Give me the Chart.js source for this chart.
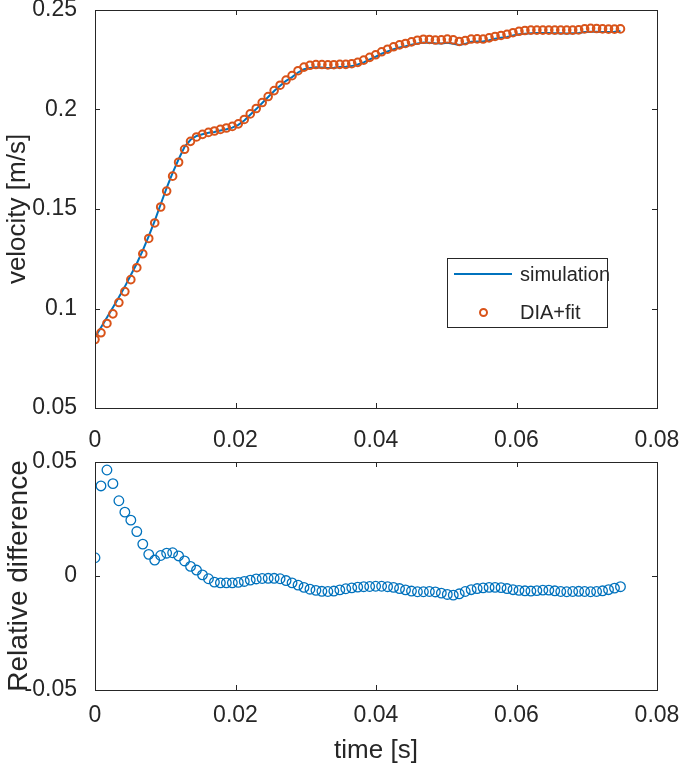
<!DOCTYPE html>
<html>
<head>
<meta charset="utf-8">
<script src="https://cdn.jsdelivr.net/npm/chart.js@4.4.1/dist/chart.umd.min.js"></script>
<style>
  body { margin: 0; background: #fff; }
  #wrap { position: relative; width: 685px; height: 776px; }
  canvas { position: absolute; left: 0; }
  #topChart { top: 0; }
  #bottomChart { top: 450px; }
  #legend {
    position: absolute; left: 447px; top: 258px; width: 159px; height: 68px;
    border: 1px solid #262626; background: #fff;
    font-family: "Liberation Sans", Arial, sans-serif; font-size: 20px; color: #262626;
  }
  .item { position: absolute; left: 0; width: 100%; height: 30px; }
  .item span { position: absolute; left: 72px; top: 3px; }
</style>
</head>
<body>
<div id="wrap">
  <canvas id="topChart" width="685" height="450"></canvas>
  <canvas id="bottomChart" width="685" height="326"></canvas>
  <div id="legend"></div>
</div>
<script>
// time samples [s]
const time = [0, 0.00085, 0.0017, 0.00255, 0.0034, 0.00425, 0.0051, 0.00595, 0.0068, 0.00765,
  0.0085, 0.00935, 0.0102, 0.01105, 0.0119, 0.01275, 0.0136, 0.01445, 0.0153, 0.01615,
  0.017, 0.01785, 0.0187, 0.01955, 0.0204, 0.02125, 0.0221, 0.02295, 0.0238, 0.02465,
  0.0255, 0.02635, 0.0272, 0.02805, 0.0289, 0.02975, 0.0306, 0.03145, 0.0323, 0.03315,
  0.034, 0.03485, 0.0357, 0.03655, 0.0374, 0.03825, 0.0391, 0.03995, 0.0408, 0.04165,
  0.0425, 0.04335, 0.0442, 0.04505, 0.0459, 0.04675, 0.0476, 0.04845, 0.0493, 0.05015,
  0.051, 0.05185, 0.0527, 0.05355, 0.0544, 0.05525, 0.0561, 0.05695, 0.0578, 0.05865,
  0.0595, 0.06035, 0.0612, 0.06205, 0.0629, 0.06375, 0.0646, 0.06545, 0.0663, 0.06715,
  0.068, 0.06885, 0.0697, 0.07055, 0.0714, 0.07225, 0.0731, 0.07395, 0.0748];

// simulated velocity [m/s]
const simulation = [0.0855, 0.0905, 0.0955, 0.1005, 0.1057, 0.1110, 0.1168, 0.1226, 0.1292, 0.1364,
  0.1440, 0.1524, 0.1606, 0.1682, 0.1750, 0.1812, 0.1848, 0.1867, 0.1876, 0.1883,
  0.1887, 0.1894, 0.1901, 0.1909, 0.1923, 0.1945, 0.1974, 0.2002, 0.2033, 0.2063,
  0.2093, 0.2119, 0.2144, 0.2163, 0.2186, 0.2202, 0.2209, 0.2212, 0.2211, 0.2209,
  0.2210, 0.2213, 0.2215, 0.2218, 0.2226, 0.2237, 0.2252, 0.2265, 0.2280, 0.2292,
  0.2303, 0.2312, 0.2318, 0.2325, 0.2332, 0.2337, 0.2336, 0.2333, 0.2332, 0.2335,
  0.2330, 0.2324, 0.2330, 0.2340, 0.2342, 0.2342, 0.2348, 0.2355, 0.2360, 0.2365,
  0.2372, 0.2378, 0.2381, 0.2383, 0.2384, 0.2384, 0.2384, 0.2383, 0.2383, 0.2382,
  0.2383, 0.2384, 0.2389, 0.2391, 0.2391, 0.2389, 0.2390, 0.2391, 0.2394];

// measured velocity (DIA + fit) [m/s]
const diaFit = [0.0844, 0.0878, 0.0925, 0.0973, 0.1030, 0.1085, 0.1145, 0.1205, 0.1275, 0.1352,
  0.1430, 0.1510, 0.1590, 0.1665, 0.1735, 0.1800, 0.1840, 0.1862, 0.1875, 0.1885,
  0.1892, 0.1900, 0.1907, 0.1915, 0.1928, 0.1950, 0.1978, 0.2005, 0.2035, 0.2065,
  0.2095, 0.2122, 0.2148, 0.2170, 0.2195, 0.2213, 0.2222, 0.2226, 0.2226, 0.2224,
  0.2225, 0.2227, 0.2227, 0.2230, 0.2237, 0.2248, 0.2262, 0.2275, 0.2290, 0.2303,
  0.2315, 0.2325, 0.2332, 0.2340, 0.2348, 0.2353, 0.2352, 0.2349, 0.2350, 0.2354,
  0.2350, 0.2342, 0.2346, 0.2354, 0.2355, 0.2354, 0.2360, 0.2367, 0.2372, 0.2378,
  0.2386, 0.2393, 0.2397, 0.2399, 0.2399, 0.2399, 0.2399, 0.2399, 0.2399, 0.2399,
  0.2399, 0.2400, 0.2405, 0.2408, 0.2407, 0.2405, 0.2404, 0.2404, 0.2405];

// relative difference
const relDiff = [0.0080, 0.0395, 0.0465, 0.0405, 0.0330, 0.0280, 0.0245, 0.0195, 0.0140, 0.0095,
  0.0070, 0.0090, 0.0100, 0.0102, 0.0088, 0.0066, 0.0042, 0.0026, 0.0005, -0.0012,
  -0.0027, -0.0030, -0.0030, -0.0030, -0.0028, -0.0024, -0.0018, -0.0013, -0.0011, -0.0010,
  -0.0010, -0.0012, -0.0020, -0.0030, -0.0040, -0.0050, -0.0058, -0.0063, -0.0067, -0.0068,
  -0.0066, -0.0061, -0.0056, -0.0052, -0.0049, -0.0047, -0.0046, -0.0045, -0.0045, -0.0047,
  -0.0050, -0.0055, -0.0061, -0.0066, -0.0069, -0.0069, -0.0068, -0.0070, -0.0075, -0.0081,
  -0.0084, -0.0078, -0.0068, -0.0060, -0.0055, -0.0052, -0.0050, -0.0050, -0.0051, -0.0055,
  -0.0060, -0.0063, -0.0065, -0.0066, -0.0064, -0.0062, -0.0062, -0.0065, -0.0068, -0.0069,
  -0.0068, -0.0067, -0.0068, -0.0069, -0.0068, -0.0065, -0.0060, -0.0053, -0.0047];

const FONT = '"Liberation Sans", Arial, sans-serif';
const INK = '#262626';
const BLUE = '#0072BD';
const ORANGE = '#D95319';

const pts = (ys) => time.map((t, i) => ({ x: t, y: ys[i] }));
// MATLAB-like tick text: 0.2 not 0.20
const fmt = (v) => String(parseFloat(Number(v).toFixed(4)));

// MATLAB-style box with inward tick marks on all four sides
const boxPlugin = {
  id: 'box',
  afterDraw(chart) {
    const { ctx, chartArea: a, scales } = chart;
    ctx.save();
    ctx.strokeStyle = INK;
    ctx.lineWidth = 1;
    ctx.strokeRect(a.left + 0.5, a.top + 0.5, a.right - a.left, a.bottom - a.top);
    ctx.beginPath();
    scales.x.ticks.forEach(t => {
      const px = Math.round(scales.x.getPixelForValue(t.value)) + 0.5;
      ctx.moveTo(px, a.bottom); ctx.lineTo(px, a.bottom - 5);
      ctx.moveTo(px, a.top); ctx.lineTo(px, a.top + 5);
    });
    scales.y.ticks.forEach(t => {
      const py = Math.round(scales.y.getPixelForValue(t.value)) + 0.5;
      ctx.moveTo(a.left, py); ctx.lineTo(a.left + 5, py);
      ctx.moveTo(a.right, py); ctx.lineTo(a.right - 5, py);
    });
    ctx.stroke();
    ctx.restore();
  }
};

function noPad(s) { s.paddingLeft = 0; s.paddingRight = 0; s.paddingTop = 0; s.paddingBottom = 0; }

function axisX(height, pad, title) {
  return {
    type: 'linear', min: 0, max: 0.08,
    grid: { display: false }, border: { display: false },
    ticks: { stepSize: 0.02, padding: pad, color: INK, font: { family: FONT, size: 23 }, maxRotation: 0, callback: fmt },
    title: title ? { display: true, text: title, color: INK, font: { family: FONT, size: 26 }, padding: { top: 0, bottom: 10 } } : { display: false },
    afterFit(s) { s.height = height; noPad(s); }
  };
}
function axisY(min, max, step, title, size) {
  return {
    type: 'linear', min: min, max: max,
    grid: { display: false }, border: { display: false },
    ticks: { stepSize: step, padding: 10, color: INK, font: { family: FONT, size: 23 }, callback: fmt },
    title: { display: true, text: title, color: INK, font: { family: FONT, size: size }, padding: { top: 2, bottom: 0 } },
    afterFit(s) { s.width = 95; noPad(s); }
  };
}

const topChart = new Chart(document.getElementById('topChart'), {
  type: 'scatter',
  data: {
    datasets: [{
      label: 'simulation',
      data: pts(simulation),
      showLine: true,
      borderColor: BLUE,
      borderWidth: 2,
      pointRadius: 0,
      order: 2
    }, {
      label: 'DIA+fit',
      data: pts(diaFit),
      borderColor: ORANGE,
      backgroundColor: 'rgba(0,0,0,0)',
      pointRadius: 3.8,
      pointBorderWidth: 2,
      order: 1
    }]
  },
  options: {
    responsive: false,
    animation: false,
    layout: { padding: { top: 10, right: 28, left: 0, bottom: 0 } },
    plugins: { legend: { display: false }, tooltip: { enabled: false } },
    scales: {
      x: axisX(42, 11, null),
      y: axisY(0.05, 0.25, 0.05, 'velocity [m/s]', 26)
    }
  },
  plugins: [boxPlugin]
});

const bottomChart = new Chart(document.getElementById('bottomChart'), {
  type: 'scatter',
  data: {
    datasets: [{
      label: 'Relative difference',
      data: pts(relDiff),
      borderColor: BLUE,
      backgroundColor: 'rgba(0,0,0,0)',
      pointRadius: 4.8,
      pointBorderWidth: 1.3
    }]
  },
  options: {
    responsive: false,
    animation: false,
    layout: { padding: { top: 12, right: 28, left: 0, bottom: 0 } },
    plugins: { legend: { display: false }, tooltip: { enabled: false } },
    scales: {
      x: axisX(86, 4, 'time [s]'),
      y: axisY(-0.05, 0.05, 0.05, 'Relative difference', 28)
    }
  },
  plugins: [boxPlugin]
});

// legend box inside the top axes, built from the datasets
const legend = document.getElementById('legend');
topChart.data.datasets.forEach((ds, i) => {
  const row = document.createElement('div');
  row.className = 'item';
  row.style.top = (i * 38 + 1) + 'px';
  const mark = document.createElement('div');
  mark.style.position = 'absolute';
  if (ds.showLine) {
    mark.style.left = '6px'; mark.style.top = '13px'; mark.style.width = '58px';
    mark.style.borderTop = ds.borderWidth + 'px solid ' + ds.borderColor;
  } else {
    mark.style.left = '31px'; mark.style.top = '10px'; mark.style.width = '5px'; mark.style.height = '5px';
    mark.style.border = ds.pointBorderWidth + 'px solid ' + ds.borderColor; mark.style.borderRadius = '50%';
  }
  const txt = document.createElement('span');
  txt.textContent = ds.label;
  row.appendChild(mark);
  row.appendChild(txt);
  legend.appendChild(row);
});
</script>
</body>
</html>
